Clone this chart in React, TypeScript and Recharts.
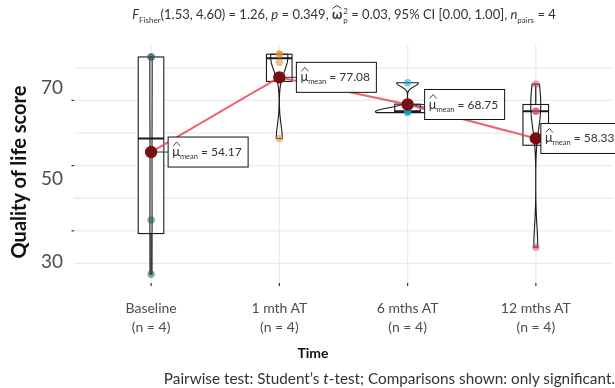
import { ComposedChart, Bar, Scatter, Line, XAxis, YAxis, CartesianGrid } from 'recharts'

const timepoints = ['Baseline', '1 mth AT', '6 mths AT', '12 mths AT']
const sampleSizes = [4, 4, 4, 4]
const subjectA = [16.67, 58.33, 66.25, 25.0]
const subjectB = [33.33, 81.67, 66.67, 66.67]
const subjectC = [83.33, 84.17, 66.67, 66.67]
const subjectD = [83.33, 84.17, 75.42, 75.0]
const meanScores = [54.17, 77.08, 68.75, 58.33]
const groupColors = ['#2b5a61', '#e8892e', '#129fd2', '#cf4f62']
const yGridTicks = [20, 30, 40, 50, 60, 70, 80]
const yLabelTicks = [30, 50, 70]

const FONT = 'Lato, "Noto Sans", sans-serif'

// R-style helpers (quantile type 7, nrd0 bandwidth, gaussian kde)
const quantile = (sorted: number[], p: number) => {
  const h = (sorted.length - 1) * p
  const lo = Math.floor(h)
  const hi = Math.ceil(h)
  return sorted[lo] + (h - lo) * (sorted[hi] - sorted[lo])
}

const bandwidth = (sorted: number[]) => {
  const n = sorted.length
  const m = sorted.reduce((s, v) => s + v, 0) / n
  const sd = Math.sqrt(sorted.reduce((s, v) => s + (v - m) ** 2, 0) / (n - 1))
  const iqr = (quantile(sorted, 0.75) - quantile(sorted, 0.25)) / 1.34
  return 0.9 * Math.min(sd, iqr) * Math.pow(n, -0.2)
}

const density = (sorted: number[], bw: number, v: number) =>
  sorted.reduce((s, x) => s + Math.exp(-0.5 * ((v - x) / bw) ** 2), 0) /
  (sorted.length * bw * Math.sqrt(2 * Math.PI))

const rows = timepoints.map((name, i) => {
  const values = [subjectA[i], subjectB[i], subjectC[i], subjectD[i]].sort((p, q) => p - q)
  return {
    name,
    n: sampleSizes[i],
    a: subjectA[i],
    b: subjectB[i],
    c: subjectC[i],
    d: subjectD[i],
    mean: meanScores[i],
    range: [values[0], values[values.length - 1]],
    values,
    color: groupColors[i],
  }
})

const STEPS = 80
const violinMax = Math.max(
  ...rows.map((r) => {
    const bw = bandwidth(r.values)
    const lo = r.values[0]
    const hi = r.values[r.values.length - 1]
    let m = 0
    for (let k = 0; k <= STEPS; k++) m = Math.max(m, density(r.values, bw, lo + ((hi - lo) * k) / STEPS))
    return m
  })
)

const ViolinBox = (props: any) => {
  const { x, y, width, height } = props
  const row = props.payload ?? props
  const vals: number[] = row.values
  if (!vals) return null
  const lo = vals[0]
  const hi = vals[vals.length - 1]
  const top = Math.min(y, y + height)
  const h = Math.abs(height)
  const toPx = (v: number) => top + ((hi - v) / (hi - lo)) * h
  const cx = x + width / 2
  const half = width / 2
  const boxHalf = width * 0.2

  const bw = bandwidth(vals)
  const right: string[] = []
  const left: string[] = []
  for (let k = 0; k <= STEPS; k++) {
    const v = hi - ((hi - lo) * k) / STEPS
    const w = (density(vals, bw, v) / violinMax) * half
    right.push(`${cx + w},${toPx(v)}`)
    left.unshift(`${cx - w},${toPx(v)}`)
  }
  const violinPath = `M${right.join('L')}L${left.join('L')}Z`

  const q1 = quantile(vals, 0.25)
  const med = quantile(vals, 0.5)
  const q3 = quantile(vals, 0.75)
  const iqr = q3 - q1
  const inFence = vals.filter((v) => v >= q1 - 1.5 * iqr && v <= q3 + 1.5 * iqr)
  const wLo = Math.min(...inFence)
  const wHi = Math.max(...inFence)

  return (
    <g>
      <line x1={cx} x2={cx} y1={toPx(q3)} y2={toPx(wHi)} stroke="#1a1a1a" strokeWidth={1.2} />
      <line x1={cx} x2={cx} y1={toPx(q1)} y2={toPx(wLo)} stroke="#1a1a1a" strokeWidth={1.2} />
      <rect
        x={cx - boxHalf}
        y={toPx(q3)}
        width={boxHalf * 2}
        height={Math.max(toPx(q1) - toPx(q3), 0.5)}
        fill="#fff"
        stroke="#1a1a1a"
        strokeWidth={1.1}
      />
      <line x1={cx - boxHalf} x2={cx + boxHalf} y1={toPx(med)} y2={toPx(med)} stroke="#1a1a1a" strokeWidth={2} />
      <path d={violinPath} fill="none" stroke="#1a1a1a" strokeWidth={1.1} />
    </g>
  )
}

const SubjectDot = (props: any) => {
  const { cx, cy, payload } = props
  if (cx == null || cy == null) return null
  return <circle cx={cx} cy={cy} r={3.7} fill={payload?.color ?? '#333'} fillOpacity={0.55} />
}

const MeanLabel = (props: any) => {
  const { x, y, value, index } = props
  if (x == null || y == null) return null
  const bx = x + (index === 3 ? 5 : 17)
  const by = y - 15
  return (
    <g>
      <line x1={x} x2={bx} y1={y} y2={y} stroke="#333" strokeWidth={1} />
      <rect x={bx} y={by} width={80} height={30} fill="#fff" stroke="#111" strokeWidth={1} />
      <polyline
        points={`${bx + 5},${y - 6} ${bx + 8.5},${y - 10} ${bx + 12},${y - 6}`}
        fill="none"
        stroke="#333"
        strokeWidth={0.9}
      />
      <text x={bx + 4} y={y + 4} fontFamily={FONT} fontSize={13} fill="#333">
        μ
        <tspan fontSize={7.5} dy={3}>
          mean
        </tspan>
        <tspan fontSize={12} dy={-3}>
          {` = ${Number(value).toFixed(2)}`}
        </tspan>
      </text>
    </g>
  )
}

const labelShift: Record<number, number> = { 70: -13, 50: 12, 30: 30 }

const YTick = (props: any) => {
  const { y, payload } = props
  const v = payload?.value
  if (!yLabelTicks.includes(v)) return <g />
  return (
    <g>
      <line x1={71.5} x2={74} y1={y} y2={y} stroke="#333" strokeWidth={1.2} />
      <text x={63} y={y + labelShift[v] + 7} textAnchor="end" fontFamily={FONT} fontSize={19} fill="#4d4d4d">
        {v}
      </text>
    </g>
  )
}

const XTick = (props: any) => {
  const { x, y, payload, index } = props
  return (
    <g>
      <text x={x} y={y + 25} textAnchor="middle" fontFamily={FONT} fontSize={14} fill="#4d4d4d">
        {payload.value}
      </text>
      <text x={x} y={y + 44} textAnchor="middle" fontFamily={FONT} fontSize={14} fill="#4d4d4d">
        (n = {sampleSizes[index ?? 0]})
      </text>
    </g>
  )
}

export default function App() {
  return (
    <div style={{ position: 'fixed', left: 0, top: 0, width: 615, height: 388, background: '#fff', fontFamily: FONT }}>
      <div
        style={{
          position: 'absolute',
          left: 0,
          width: 688,
          top: 6,
          textAlign: 'center',
          fontSize: 13,
          color: '#333',
          whiteSpace: 'nowrap',
        }}
      >
        <i>F</i>
        <sub style={{ fontSize: 8 }}>Fisher</sub>(1.53, 4.60) = 1.26, <i>p</i> = 0.349,{' '}
        <span style={{ position: 'relative', fontWeight: 700, display: 'inline-block' }}>
          ω
          <svg width={10} height={4} style={{ position: 'absolute', left: 0, top: -1 }}>
            <polyline points="0.5,3.5 5,0.5 9.5,3.5" fill="none" stroke="#333" strokeWidth={1} />
          </svg>
        </span>
        <span
          style={{
            display: 'inline-flex',
            flexDirection: 'column',
            fontSize: 8,
            lineHeight: '9px',
            verticalAlign: 'middle',
            marginLeft: 1,
          }}
        >
          <span>2</span>
          <span>p</span>
        </span>{' '}
        = 0.03, 95% CI [0.00, 1.00], <i>n</i>
        <sub style={{ fontSize: 8 }}>pairs</sub> = 4
      </div>

      <ComposedChart
        width={615}
        height={388}
        data={rows}
        margin={{ top: 45, right: 2, bottom: 55, left: 0 }}
      >
        <CartesianGrid stroke="#ebebeb" strokeWidth={1.3} syncWithTicks />
        <XAxis
          dataKey="name"
          height={50}
          padding={{ left: 13, right: 13 }}
          axisLine={false}
          tickSize={3}
          tickLine={{ stroke: '#333', strokeWidth: 1.2 }}
          tick={<XTick />}
          interval={0}
        />
        <YAxis
          type="number"
          domain={[14, 87]}
          ticks={yGridTicks}
          allowDataOverflow
          width={74}
          axisLine={false}
          tickLine={false}
          tick={<YTick />}
          label={{
            content: () => (
              <text
                transform="translate(26,172) rotate(-90)"
                textAnchor="middle"
                fontFamily={FONT}
                fontSize={20}
                fontWeight={700}
                fill="#111"
              >
                Quality of life score
              </text>
            ),
          }}
        />
        <Bar dataKey="range" barSize={64} shape={<ViolinBox />} isAnimationActive={false} />
        <Scatter dataKey="a" shape={<SubjectDot />} isAnimationActive={false} />
        <Scatter dataKey="b" shape={<SubjectDot />} isAnimationActive={false} />
        <Scatter dataKey="c" shape={<SubjectDot />} isAnimationActive={false} />
        <Scatter dataKey="d" shape={<SubjectDot />} isAnimationActive={false} />
        <Line
          type="linear"
          dataKey="mean"
          stroke="#ee4456"
          strokeOpacity={0.85}
          strokeWidth={2}
          dot={{ r: 6.2, fill: '#7a0c12', stroke: 'none' }}
          activeDot={false}
          label={(p: any) => <MeanLabel {...p} />}
          isAnimationActive={false}
        />
      </ComposedChart>

      <div
        style={{
          position: 'absolute',
          left: 263,
          width: 100,
          top: 344,
          textAlign: 'center',
          fontSize: 14,
          fontWeight: 700,
          color: '#111',
        }}
      >
        Time
      </div>
      <div
        style={{
          position: 'absolute',
          right: 0,
          top: 369,
          fontSize: 15.3,
          color: '#333',
          whiteSpace: 'nowrap',
        }}
      >
        Pairwise test: Student’s <i>t</i>-test; Comparisons shown: only significant.
      </div>
    </div>
  )
}
